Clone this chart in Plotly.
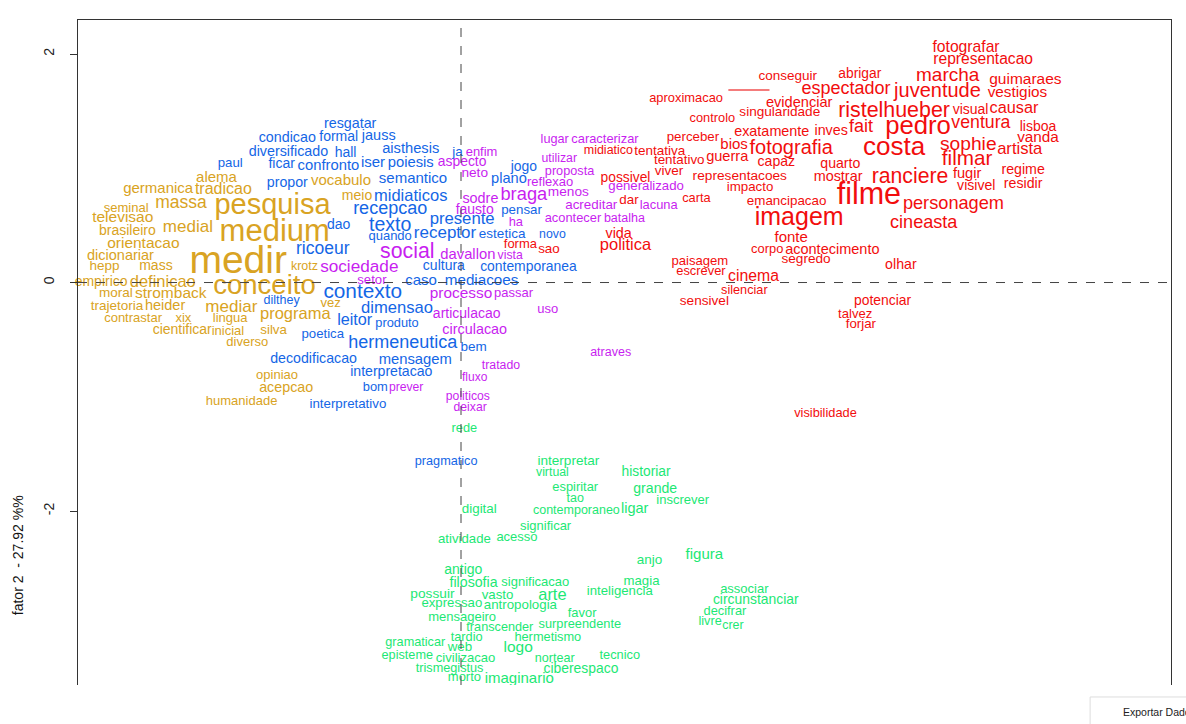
import plotly.graph_objects as go

# ---------------- data (factor coordinates) ----------------
gold_words = ["alema", "germanica", "tradicao", "massa", "pesquisa", "seminal", "televisao",
              "brasileiro", "medial", "medium", "orientacao", "dicionariar", "medir", "hepp",
              "mass", "krotz", "empirico", "definicao", "conceito", "moral", "stromback",
              "trajetoria", "heider", "mediar", "vez", "contrastar", "xix", "lingua", "programa",
              "cientificar", "inicial", "silva", "diverso", "opiniao", "acepcao", "humanidade",
              "vocabulo", "meio"]
gold_x = [-2.14, -2.65, -2.08, -2.45, -1.65, -2.93, -2.96, -2.92, -2.39, -1.63, -2.78, -2.98,
          -1.95, -3.12, -2.67, -1.37, -3.15, -2.61, -1.72, -3.02, -2.54, -3.01, -2.59, -2.01,
          -1.14, -2.87, -2.43, -2.02, -1.45, -2.44, -2.04, -1.64, -1.87, -1.61, -1.53, -1.92,
          -1.05, -0.91]
gold_y = [0.91, 0.82, 0.81, 0.69, 0.66, 0.65, 0.56, 0.45, 0.48, 0.43, 0.34, 0.23, 0.17, 0.14,
          0.14, 0.14, 0.00, 0.00, -0.04, -0.10, -0.10, -0.21, -0.21, -0.22, -0.19, -0.32, -0.32,
          -0.32, -0.28, -0.42, -0.43, -0.42, -0.53, -0.82, -0.93, -1.04, 0.89, 0.75]
gold_size = [15, 15, 16, 17.5, 29, 13, 15.5, 14, 17, 31, 15.5, 14.5, 39, 13.5, 14, 12.5, 14,
             16.5, 27.5, 13.5, 15.5, 13.5, 14.5, 17, 13, 13, 13, 13, 16.5, 14, 13, 13.3, 13, 13,
             14.3, 13, 15, 14]

blue_words = ["resgatar", "condicao", "formal", "jauss", "diversificado", "hall", "aisthesis",
              "ja", "paul", "ficar", "confronto", "iser", "poiesis", "propor", "semantico",
              "midiaticos", "recepcao", "dao", "texto", "quando", "receptor", "presente",
              "ricoeur", "cultura", "caso", "mediacoes", "contexto", "dilthey", "dimensao",
              "leitor", "produto", "poetica", "hermeneutica", "bem", "decodificacao", "mensagem",
              "interpretacao", "bom", "interpretativo", "pragmatico", "jogo", "plano", "pensar",
              "estetica", "novo", "contemporanea"]
blue_x = [-0.97, -1.52, -1.07, -0.72, -1.51, -1.01, -0.44, -0.03, -2.02, -1.57, -1.16, -0.77,
          -0.44, -1.52, -0.42, -0.44, -0.62, -1.07, -0.62, -0.62, -0.14, 0.01, -1.21, -0.15,
          -0.35, 0.18, -0.86, -1.57, -0.56, -0.93, -0.56, -1.21, -0.51, 0.11, -1.29, -0.40,
          -0.61, -0.75, -0.99, -0.13, 0.55, 0.42, 0.53, 0.36, 0.80, 0.59]
blue_y = [1.38, 1.26, 1.27, 1.28, 1.14, 1.13, 1.17, 1.14, 1.04, 1.03, 1.02, 1.04, 1.04, 0.87,
          0.90, 0.75, 0.64, 0.50, 0.49, 0.40, 0.43, 0.55, 0.29, 0.14, 0.01, 0.01, -0.09, -0.16,
          -0.23, -0.34, -0.36, -0.46, -0.53, -0.57, -0.67, -0.68, -0.79, -0.92, -1.07, -1.57,
          1.01, 0.90, 0.63, 0.42, 0.42, 0.13]
blue_size = [14.3, 14.3, 14, 14.5, 14.3, 14, 14.7, 13.5, 13.2, 14, 14.8, 15, 14.8, 14.2, 15,
             16.5, 18, 14, 19.5, 13, 17, 16.7, 17.5, 14, 15, 15.2, 20.8, 12.5, 16.6, 16.2, 12.8,
             13.2, 18, 13.5, 14.2, 14.8, 14.1, 12.9, 13.3, 12.7, 13.9, 14.6, 13.3, 13.5, 12.3,
             13.9]

magenta_words = ["lugar", "caracterizar", "enfim", "aspecto", "utilizar", "neto", "proposta",
                 "reflexao", "generalizado", "braga", "sodre", "menos", "lacuna", "fausto",
                 "acreditar", "ha", "acontecer", "batalha", "social", "davallon", "vista",
                 "sociedade", "setor", "processo", "passar", "articulacao", "uso", "circulacao",
                 "tratado", "fluxo", "prever", "politicos", "deixar", "atraves"]
magenta_x = [0.82, 1.26, 0.18, 0.01, 0.86, 0.12, 0.95, 0.78, 1.62, 0.55, 0.17, 0.94, 1.73,
             0.12, 1.14, 0.48, 0.98, 1.43, -0.47, 0.06, 0.43, -0.89, -0.78, 0.00, 0.46, 0.05,
             0.76, 0.12, 0.35, 0.12, -0.48, 0.06, 0.08, 1.31]
magenta_y = [1.25, 1.25, 1.14, 1.05, 1.08, 0.95, 0.97, 0.87, 0.84, 0.76, 0.73, 0.79, 0.67,
             0.63, 0.67, 0.52, 0.56, 0.56, 0.26, 0.24, 0.23, 0.13, 0.02, -0.10, -0.10, -0.28,
             -0.24, -0.42, -0.73, -0.84, -0.92, -1.00, -1.10, -0.62]
magenta_size = [12.7, 12.9, 13, 13.9, 12.3, 13.7, 12.7, 13, 13.2, 18.3, 14.4, 13.7, 12.9, 14,
                13.4, 12.9, 12.9, 12.5, 21.3, 14.8, 12.2, 17.2, 13.2, 15.4, 13, 14, 13, 14.4,
                12.3, 12, 12.2, 12.2, 12.2, 12.5]

red_words = ["midiatico", "tentativa", "possivel", "dar", "vida", "politica", "forma", "sao",
             "conseguir", "abrigar", "espectador", "aproximacao", "evidenciar", "singularidade",
             "ristelhueber", "controlo", "fait", "exatamente", "inves", "perceber", "bios",
             "fotografia", "tentativo", "guerra", "capaz", "quarto", "viver", "representacoes",
             "mostrar", "impacto", "carta", "emancipacao", "imagem", "filme", "fonte", "corpo",
             "acontecimento", "paisagem", "segredo", "escrever", "cinema", "silenciar",
             "sensivel", "fotografar", "representacao", "marcha", "guimaraes", "juventude",
             "vestigios", "visual", "causar", "pedro", "ventura", "lisboa", "vanda", "costa",
             "sophie", "artista", "filmar", "ranciere", "fugir", "regime", "visivel", "residir",
             "personagem", "cineasta", "olhar", "potenciar", "talvez", "forjar", "visibilidade"]
red_x = [1.29, 1.74, 1.44, 1.47, 1.38, 1.44, 0.52, 0.77, 2.86, 3.49, 3.37, 1.97, 2.96, 2.79,
         3.79, 2.20, 3.50, 2.72, 3.24, 2.03, 2.39, 2.89, 1.91, 2.33, 2.76, 3.32, 1.82, 2.44,
         3.30, 2.53, 2.06, 2.85, 2.96, 3.57, 2.89, 2.68, 3.25, 2.09, 3.02, 2.10, 2.56, 2.48,
         2.13, 4.42, 4.57, 4.26, 4.94, 4.17, 4.87, 4.46, 4.84, 4.00, 4.55, 5.05, 5.05, 3.79,
         4.44, 4.89, 4.43, 3.93, 4.43, 4.92, 4.51, 4.92, 4.31, 4.05, 3.85, 3.69, 3.45, 3.50,
         3.19]
red_y = [1.15, 1.15, 0.91, 0.72, 0.42, 0.32, 0.33, 0.29, 1.80, 1.82, 1.69, 1.61, 1.57, 1.49,
         1.50, 1.43, 1.36, 1.31, 1.32, 1.27, 1.20, 1.17, 1.07, 1.10, 1.05, 1.03, 0.97, 0.93,
         0.92, 0.83, 0.73, 0.71, 0.56, 0.75, 0.39, 0.29, 0.28, 0.18, 0.20, 0.09, 0.05, -0.07,
         -0.17, 2.05, 1.95, 1.81, 1.77, 1.67, 1.66, 1.51, 1.52, 1.36, 1.39, 1.36, 1.26, 1.17,
         1.20, 1.16, 1.07, 0.92, 0.95, 0.98, 0.84, 0.86, 0.68, 0.52, 0.15, -0.17, -0.28,
         -0.37, -1.15]
red_size = [12.5, 13.5, 13.8, 13.4, 14.4, 16.5, 13, 13.4, 13.5, 13.8, 18, 12.9, 14.6, 13.6,
            21.4, 12.8, 18, 14.4, 14.3, 13.3, 15, 20, 13.4, 14.6, 14.1, 14.1, 13.5, 13.7, 14.4,
            13.3, 12.8, 13.4, 25, 30.5, 15, 12.9, 14.5, 13.1, 13.6, 12.9, 15.8, 12.7, 13.6,
            15.7, 15.6, 19, 15.5, 20, 15.3, 14, 16.3, 25.7, 17.7, 14, 15.3, 26, 19.2, 16.6,
            20.7, 21.2, 14.6, 14.2, 14.1, 14.2, 18.2, 18.1, 14.2, 13.9, 13.1, 13.3, 12.8]

green_words = ["rede", "interpretar", "virtual", "historiar", "espiritar", "grande", "tao",
               "inscrever", "digital", "contemporaneo", "ligar", "significar", "atividade",
               "acesso", "anjo", "figura", "antigo", "filosofia", "significacao", "magia",
               "associar", "possuir", "vasto", "arte", "inteligencia", "circunstanciar",
               "expressao", "antropologia", "decifrar", "favor", "mensageiro", "livre", "crer",
               "transcender", "surpreendente", "tardio", "hermetismo", "gramaticar", "web",
               "logo", "episteme", "civilizacao", "nortear", "tecnico", "trismegistus",
               "ciberespaco", "morto", "imaginario", "hackers"]
green_x = [0.03, 0.94, 0.80, 1.62, 1.00, 1.70, 1.00, 1.94, 0.16, 1.01, 1.52, 0.74, 0.03, 0.49,
           1.65, 2.13, 0.02, 0.11, 0.65, 1.58, 2.48, -0.25, 0.32, 0.80, 1.39, 2.58, -0.08, 0.52,
           2.31, 1.06, 0.01, 2.18, 2.38, 0.34, 1.04, 0.05, 0.76, -0.40, -0.01, 0.50, -0.47,
           0.04, 0.82, 1.39, -0.10, 1.05, 0.03, 0.51, 1.25]
green_y = [-1.28, -1.57, -1.67, -1.66, -1.80, -1.81, -1.89, -1.91, -1.99, -2.00, -1.99, -2.14,
           -2.25, -2.23, -2.43, -2.39, -2.52, -2.63, -2.63, -2.62, -2.69, -2.73, -2.74, -2.74,
           -2.71, -2.78, -2.81, -2.83, -2.88, -2.90, -2.93, -2.97, -3.01, -3.02, -3.00, -3.11,
           -3.11, -3.15, -3.20, -3.20, -3.27, -3.29, -3.29, -3.27, -3.38, -3.39, -3.46, -3.47,
           -3.57]
green_size = [12.8, 13.6, 12.3, 13.8, 12.9, 14.1, 12.5, 13, 13.4, 12.5, 14.5, 13, 13.2, 13,
              13.5, 15, 14, 14.2, 13, 13.2, 13, 13.7, 13.3, 16.4, 13.2, 13.9, 13.2, 13.3, 12.8,
              12.9, 13, 12.7, 12.4, 12.7, 12.8, 12.8, 12.8, 12.7, 13.3, 15.5, 12.7, 13.1, 12.6,
              12.8, 12.7, 13.9, 13, 15, 13.3]

# words whose text spills outside the plot frame in the original
unclipped = ["empirico"]

y_tick_vals = [-2, 0, 2]
y_tick_text = ["-2", "0", "2"]
y_title = "fator 2  - 27.92 %%"

FONT = "Liberation Sans, Arial, Helvetica, sans-serif"

classes = [
    (gold_words, gold_x, gold_y, gold_size, "#D9A323"),
    (blue_words, blue_x, blue_y, blue_size, "#1466E6"),
    (magenta_words, magenta_x, magenta_y, magenta_size, "#C81EF0"),
    (red_words, red_x, red_y, red_size, "#F20D0D"),
    (green_words, green_x, green_y, green_size, "#1CE874"),
]

fig = go.Figure()
for words, xs, ys, sizes, color in classes:
    for clip in (True, False):
        idx = [i for i, w in enumerate(words) if (w in unclipped) != clip]
        if not idx:
            continue
        fig.add_trace(go.Scatter(
            x=[xs[i] for i in idx], y=[ys[i] for i in idx],
            text=[words[i] for i in idx], mode="text",
            textposition="middle center",
            textfont=dict(family=FONT, size=[sizes[i] for i in idx], color=color),
            cliponaxis=clip, hoverinfo="skip", showlegend=False,
        ))

# dashed origin lines
fig.add_shape(type="line", xref="x", yref="paper", x0=0, x1=0, y0=0, y1=1,
              line=dict(color="#444444", width=1, dash="dash"), layer="above")
fig.add_shape(type="line", xref="paper", yref="y", x0=0, x1=1, y0=0, y1=0,
              line=dict(color="#444444", width=1, dash="dash"), layer="above")
# stray red stroke in the original
fig.add_shape(type="line", xref="x", yref="y", x0=2.34, x1=2.70, y0=1.685, y1=1.685,
              line=dict(color="#F05050", width=1.5))

fig.add_annotation(text=y_title, xref="paper", yref="paper", x=-0.055, y=0.195,
                   textangle=-90, showarrow=False, xanchor="center", yanchor="middle",
                   font=dict(family=FONT, size=14, color="#111111"))

# "Exportar Dados" button below the chart
fig.add_shape(type="rect", xref="paper", yref="paper", x0=0.926, x1=1.02, y0=-0.06, y1=-0.018,
              line=dict(color="#DDDDDD", width=1), fillcolor="white", layer="above")
fig.add_annotation(text="Exportar Dados", xref="paper", yref="paper", x=0.9545, y=-0.0405,
                   xanchor="left", yanchor="middle", showarrow=False,
                   font=dict(family=FONT, size=10.5, color="#222222"))

fig.update_layout(
    width=1186, height=724,
    margin=dict(l=78, r=15, t=20, b=39),
    paper_bgcolor="white", plot_bgcolor="white",
    showlegend=False,
    xaxis=dict(range=[-3.352, 6.214], showgrid=False, zeroline=False, showline=True,
               side="top", linecolor="#333333", linewidth=1, showticklabels=False, ticks="",
               fixedrange=True),
    yaxis=dict(range=[-3.523, 2.298], showgrid=False, zeroline=False, showline=True,
               mirror=True, linecolor="#333333", linewidth=1,
               tickvals=y_tick_vals, ticktext=y_tick_text, ticks="outside", ticklen=7,
               tickcolor="#333333", tickangle=-90, ticklabelstandoff=10,
               tickfont=dict(family=FONT, size=14, color="#222222"), fixedrange=True),
)

fig.write_html("out.html", config={"displayModeBar": False},
               post_script="document.body.style.margin='0';document.body.style.overflow='hidden';")
